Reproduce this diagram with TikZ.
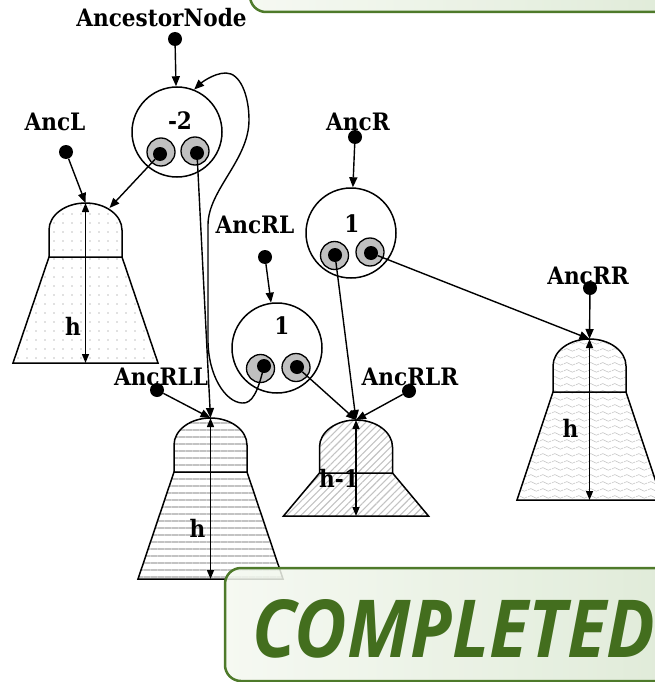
\documentclass[tikz,border=0pt]{standalone}
\usepackage{fontspec}
\setmainfont{DejaVu Serif Condensed}
\newfontfamily\stampfont{Open Sans}
\usetikzlibrary{positioning,arrows.meta,calc,patterns.meta}
\definecolor{stampGreen}{RGB}{67,110,30}
\definecolor{stampEdge}{RGB}{78,122,42}
\definecolor{stampLight}{RGB}{244,248,240}
\definecolor{stampDark}{RGB}{216,230,207}
\definecolor{slotGray}{RGB}{192,192,192}
\definecolor{hatchGray}{RGB}{195,195,195}

\tikzdeclarepattern{
  name=wavy,
  type=uncolored,
  bounding box={(0pt,0pt) and (12pt,7pt)},
  tile size={(12pt,7pt)},
  code={\draw[line width=0.6pt] (0pt,3.5pt) sin (3pt,5pt) cos (6pt,3.5pt) sin (9pt,2pt) cos (12pt,3.5pt);}
}

% subtree: name, centre x, top y, dome bottom y, base y, fill
\newcommand{\subtree}[6]{%
  \draw[treeedge, #6] ({#2-36.5},#4) -- ({#2+36.5},#4) -- ({#2+72.5},#5) -- ({#2-72.5},#5) -- cycle;
  \draw[treeedge, #6] ({#2-36.5},#4) -- ({#2-36.5},{#3+27})
    arc[start angle=180, end angle=360, x radius=36.5, y radius=27] -- ({#2+36.5},#4) -- cycle;
  \coordinate (#1top) at (#2,#3);
  \coordinate (#1base) at (#2,#5);
  \draw[dimarrow] (#1top) -- (#1base);
}

\begin{document}
\begin{tikzpicture}[x=1pt, y=-1pt,
  lbl/.style={font=\bfseries\fontsize{24}{24}\selectfont, inner sep=0pt},
  pindot/.style={circle, fill=black, minimum size=14pt, inner sep=0pt},
  bal/.style={circle, draw, line width=1.5pt, minimum size=90pt, inner sep=0pt},
  slot/.style={circle, draw, fill=slotGray, line width=1.3pt, minimum size=28pt, inner sep=0pt},
  ptr/.style={circle, fill=black, minimum size=14pt, inner sep=0pt},
  link/.style={line width=1.4pt, -{Triangle[length=10pt,width=8pt]}},
  dimarrow/.style={line width=1.4pt, {Triangle[length=9pt,width=7pt]}-{Triangle[length=9pt,width=7pt]}},
  treeedge/.style={draw, line width=1.5pt, preaction={fill=white}},
  stampbox/.style={draw=stampEdge, line width=2.5pt, rounded corners=16pt,
    left color=stampLight, right color=stampDark, fill opacity=0.85},
  stamptext/.style={font=\stampfont\bfseries\itshape\fontsize{80}{80}\selectfont, text=stampGreen, inner sep=0pt}]
  \useasboundingbox (0,0) rectangle (654,682);

  % subtrees
  \subtree{L}{85.5}{203}{257}{363}{pattern={Dots[distance=9pt,radius=0.9pt]}, pattern color=hatchGray}
  \subtree{RLL}{210.5}{418}{472}{579}{pattern={Lines[angle=0,distance=7pt,line width=2pt]}, pattern color=hatchGray}
  \subtree{RLR}{356}{420}{473}{516}{pattern={Lines[angle=45,distance=5pt,line width=1.1pt]}, pattern color=hatchGray}
  \subtree{RR}{589.5}{339}{392}{500}{pattern=wavy, pattern color=hatchGray}
  \node[lbl] (hL) at (73,326.5) {h};
  \node[lbl] (hRLL) at (197.5,528.5) {h};
  \node[lbl] (hRLR) at (339,478.5) {h-1};
  \node[lbl] (hRR) at (570.5,428.5) {h};

  % labels and their pointers
  \node[lbl] (anc) at (161.5,18) {AncestorNode};
  \node[pindot] (ancDot) at (175,39) {};
  \node[lbl] (ancL) at (55,121.5) {AncL};
  \node[pindot] (ancLDot) at (66,152) {};
  \node[lbl] (ancR) at (358,121.5) {AncR};
  \node[pindot] (ancRDot) at (355,137) {};
  \node[lbl] (ancRL) at (255,224.5) {AncRL};
  \node[pindot] (ancRLDot) at (265,257) {};
  \node[lbl] (ancRR) at (588,275.5) {AncRR};
  \node[pindot] (ancRRDot) at (590,288) {};
  \node[lbl] (ancRLL) at (161,376.5) {AncRLL};
  \node[pindot] (ancRLLDot) at (157,390) {};
  \node[lbl] (ancRLR) at (410,376.5) {AncRLR};
  \node[pindot] (ancRLRDot) at (409,391) {};

  % tree nodes with balance
  \node[bal] (A) at (177,132) {};
  \node[lbl] (aNum) at (180,120.5) {-2};
  \node[slot] (aLs) at (161,152) {};
  \node[ptr] (aLp) at (160,154) {};
  \node[slot] (aRs) at (195,151) {};
  \node[ptr] (aRp) at (197,153) {};

  \node[bal] (R) at (351,233) {};
  \node[lbl] (rNum) at (352,224) {1};
  \node[slot] (rLs) at (334.5,255.5) {};
  \node[ptr] (rLp) at (335,255) {};
  \node[slot] (rRs) at (370,252) {};
  \node[ptr] (rRp) at (371,253) {};

  \node[bal] (RL) at (277,348) {};
  \node[lbl] (rlNum) at (282,326) {1};
  \node[slot] (rlLs) at (260.5,368.5) {};
  \node[ptr] (rlLp) at (264,366) {};
  \node[slot] (rlRs) at (296,367.5) {};
  \node[ptr] (rlRp) at (297,367) {};

  % links
  \draw[link] (ancDot) -- (A);
  \draw[link] (ancLDot) -- (Ltop);
  \draw[link] (aLp) -- ($(Ltop)+(24,5)$);
  \draw[link] (aRp) -- (RLLtop);
  \draw[link] (ancRLLDot) -- (RLLtop);
  \draw[link] (ancRDot) -- (R);
  \draw[link] (ancRLDot) -- (RL);
  \draw[link] (rLp) -- (RLRtop);
  \draw[link] (rlRp) -- (RLRtop);
  \draw[link] (ancRLRDot) -- (RLRtop);
  \draw[link] (rRp) -- (RRtop);
  \draw[link] (ancRRDot) -- (RRtop);
  \draw[link] (rlLp.center) .. controls (258,392) and (252,404) .. (242,403)
    .. controls (225,402) and (208,375) .. (208,340) -- (208,225)
    .. controls (208,190) and (249,160) .. (249,120)
    .. controls (249,95) and (240,73) .. (226,73)
    .. controls (213,73) and (200,84) .. (A.68);

  % stamps
  \draw[stampbox] (250,-40) rectangle (720,12);
  \draw[stampbox] (225,568) rectangle (720,681);
  \node[stamptext, anchor=base west] (done) at (252,657) {\scalebox{0.9}[1]{COMPLETED}};
\end{tikzpicture}
\end{document}
